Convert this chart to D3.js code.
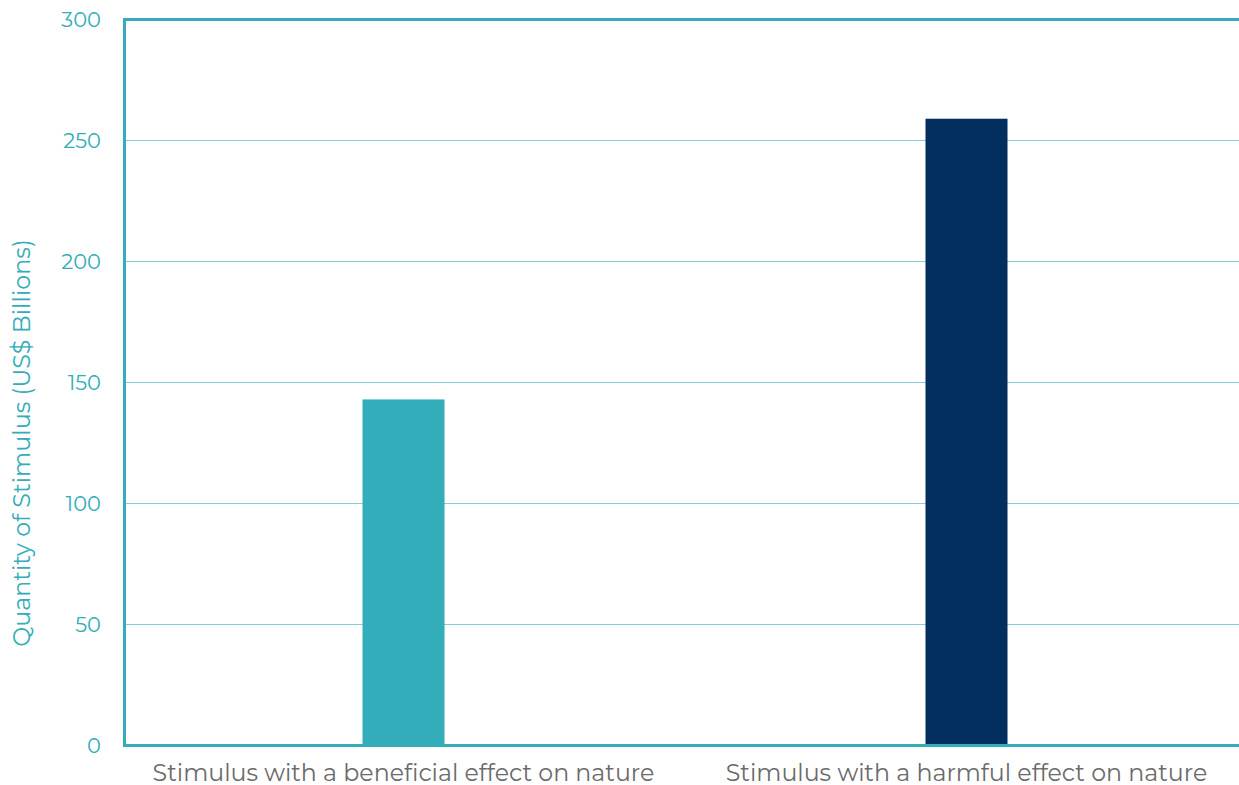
<!DOCTYPE html>
<html>
<head>
<meta charset="utf-8">
<script src="https://cdn.jsdelivr.net/npm/d3@7"></script>
<style>
  body { margin: 0; background: #fff; }
  text { font-family: "Montserrat", Lato, "Open Sans", sans-serif; }
</style>
</head>
<body>
<svg id="chart"></svg>
<script>
const categories = [
  "Stimulus with a beneficial effect on nature",
  "Stimulus with a harmful effect on nature"
];
const values = [143, 259];
const barColors = ["#33adb9", "#022f5e"];
const yTicks = [0, 50, 100, 150, 200, 250, 300];

const width = 1239;
const height = 785;
const teal = "#33adb9";

const svg = d3.select("#chart").attr("width", width).attr("height", height);

const plotLeft = 124.5, plotRight = 1239, plotTop = 19.5, plotBottom = 745.5;

const y = d3.scaleLinear().domain([0, 300]).range([plotBottom, plotTop]);
const x = d3.scalePoint().domain(categories).range([122, 1248]).padding(0.5);
const barWidth = 82;

// grid lines
svg.append("g")
  .selectAll("line")
  .data(yTicks.filter((d) => d > 0 && d < 300))
  .enter()
  .append("line")
  .attr("x1", plotLeft)
  .attr("x2", plotRight)
  .attr("y1", (d) => y(d))
  .attr("y2", (d) => y(d))
  .attr("stroke", "#86cdd4")
  .attr("stroke-width", 1.2);

// bars
svg.append("g")
  .selectAll("rect")
  .data(values)
  .enter()
  .append("rect")
  .attr("x", (d, i) => x(categories[i]) - barWidth / 2)
  .attr("y", (d) => y(d))
  .attr("width", barWidth)
  .attr("height", (d) => y(0) - y(d))
  .attr("fill", (d, i) => barColors[i]);

// frame: top, bottom, left
svg.append("line")
  .attr("x1", plotLeft).attr("x2", plotRight)
  .attr("y1", y(300)).attr("y2", y(300))
  .attr("stroke", teal).attr("stroke-width", 3);
svg.append("line")
  .attr("x1", plotLeft).attr("x2", plotRight)
  .attr("y1", y(0)).attr("y2", y(0))
  .attr("stroke", teal).attr("stroke-width", 3);
svg.append("line")
  .attr("x1", plotLeft).attr("x2", plotLeft)
  .attr("y1", y(300) - 1.5).attr("y2", y(0) + 1.5)
  .attr("stroke", teal).attr("stroke-width", 3);

// y tick labels
svg.append("g")
  .selectAll("text")
  .data(yTicks)
  .enter()
  .append("text")
  .attr("x", 101)
  .attr("y", (d) => y(d))
  .attr("dy", "0.35em")
  .attr("text-anchor", "end")
  .attr("fill", teal)
  .style("font-size", "21px")
  .text((d) => d);

// x category labels
svg.append("g")
  .selectAll("text")
  .data(categories)
  .enter()
  .append("text")
  .attr("x", (d) => x(d))
  .attr("y", 781)
  .attr("text-anchor", "middle")
  .attr("fill", "#6b6b6b")
  .style("font-size", "23.7px")
  .text((d) => d);

// y axis title
svg.append("text")
  .attr("transform", "translate(30,443) rotate(-90)")
  .attr("text-anchor", "middle")
  .attr("fill", teal)
  .style("font-size", "23.8px")
  .text("Quantity of Stimulus (US$ Billions)");
</script>
</body>
</html>
